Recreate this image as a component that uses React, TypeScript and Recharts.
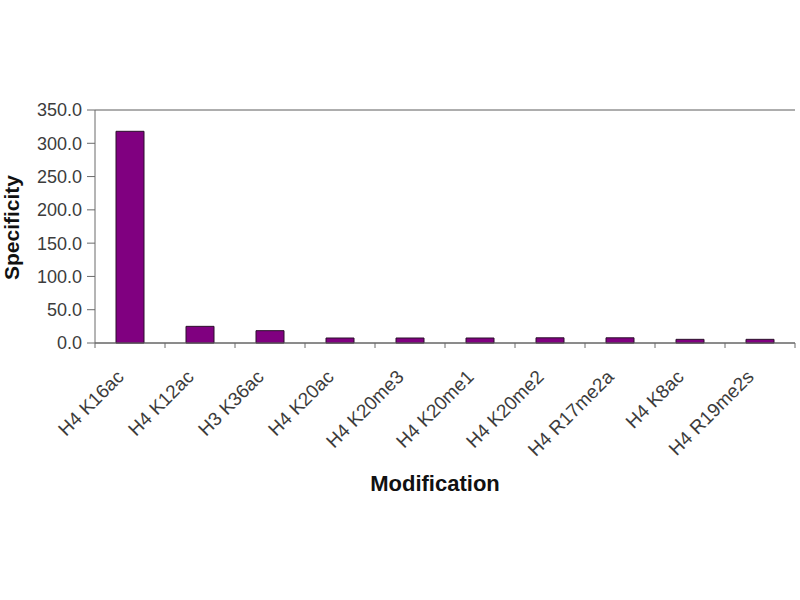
import React from 'react';
import { BarChart, Bar, XAxis, YAxis, CartesianGrid } from 'recharts';

const modifications = [
  'H4 K16ac',
  'H4 K12ac',
  'H3 K36ac',
  'H4 K20ac',
  'H4 K20me3',
  'H4 K20me1',
  'H4 K20me2',
  'H4 R17me2a',
  'H4 K8ac',
  'H4 R19me2s',
];

const specificity = [318, 25, 18.5, 7.5, 7.5, 7.5, 7.8, 7.8, 5.5, 5.5];

const yTicks = [0, 50, 100, 150, 200, 250, 300, 350];

const data = modifications.map((name, i) => ({ name, value: specificity[i] }));

const FONT = '"Liberation Sans", Arial, Helvetica, sans-serif';
const AXIS = '#6a6a6a';
const GRID = '#5c5c5c';
const LABEL = '#3c3c3c';

// Category tick: boundary tick marks between bars plus a slanted label.
const CategoryTick = (props: any) => {
  const { x, y, payload, index } = props;
  const half = payload && typeof payload.offset === 'number' && payload.offset > 0 ? payload.offset : 35;
  return (
    <g>
      {index === 0 && (
        <line x1={x - half} x2={x - half} y1={y} y2={y + 5} stroke={AXIS} strokeWidth={1} />
      )}
      <line x1={x + half} x2={x + half} y1={y} y2={y + 5} stroke={AXIS} strokeWidth={1} />
      <text
        x={x - 5}
        y={y + 35}
        textAnchor="end"
        transform={`rotate(-45, ${x - 5}, ${y + 35})`}
        fontFamily={FONT}
        fontSize={19}
        fill={LABEL}
      >
        {payload.value}
      </text>
    </g>
  );
};

const XTitle = (props: any) => {
  const vb = props.viewBox || { x: 95, y: 343, width: 700, height: 100 };
  return (
    <text
      x={vb.x + vb.width / 2 - 10}
      y={vb.y + 148}
      textAnchor="middle"
      fontFamily={FONT}
      fontSize={22}
      fontWeight="bold"
      fill="#111"
    >
      Modification
    </text>
  );
};

const YTitle = (props: any) => {
  const vb = props.viewBox || { x: 35, y: 110, width: 60, height: 233 };
  const cx = vb.x - 16;
  const cy = vb.y + vb.height / 2 + 1;
  return (
    <text
      x={cx}
      y={cy}
      textAnchor="middle"
      transform={`rotate(-90, ${cx}, ${cy})`}
      fontFamily={FONT}
      fontSize={21}
      fontWeight="bold"
      fill="#111"
    >
      Specificity
    </text>
  );
};

export default function App() {
  return (
    <div style={{ position: 'absolute', left: 0, top: 0, width: 800, height: 600, background: '#fff' }}>
      <BarChart
        width={800}
        height={600}
        data={data}
        margin={{ top: 110, right: 5, bottom: 157, left: 35 }}
        barCategoryGap="30%"
      >
        <CartesianGrid vertical={false} stroke={GRID} strokeWidth={1} />
        <XAxis
          dataKey="name"
          interval={0}
          height={100}
          tickLine={false}
          tickSize={0}
          tickMargin={0}
          axisLine={{ stroke: AXIS, strokeWidth: 1 }}
          tick={<CategoryTick />}
          label={<XTitle />}
        />
        <YAxis
          yAxisId="left"
          width={60}
          domain={[0, 350]}
          ticks={yTicks}
          interval={0}
          tickSize={8}
          tickMargin={5}
          tickFormatter={(v: number) => v.toFixed(1)}
          tick={{ fontFamily: FONT, fontSize: 18, fill: LABEL }}
          axisLine={{ stroke: AXIS, strokeWidth: 1 }}
          tickLine={{ stroke: AXIS, strokeWidth: 1 }}
          label={<YTitle />}
        />
        <YAxis
          yAxisId="right"
          orientation="right"
          width={0}
          domain={[0, 350]}
          tick={false}
          tickLine={false}
          axisLine={{ stroke: AXIS, strokeWidth: 1 }}
        />
        <Bar
          yAxisId="left"
          dataKey="value"
          fill="#800080"
          stroke="#2a0f2a"
          strokeWidth={1}
          isAnimationActive={false}
        />
      </BarChart>
    </div>
  );
}
